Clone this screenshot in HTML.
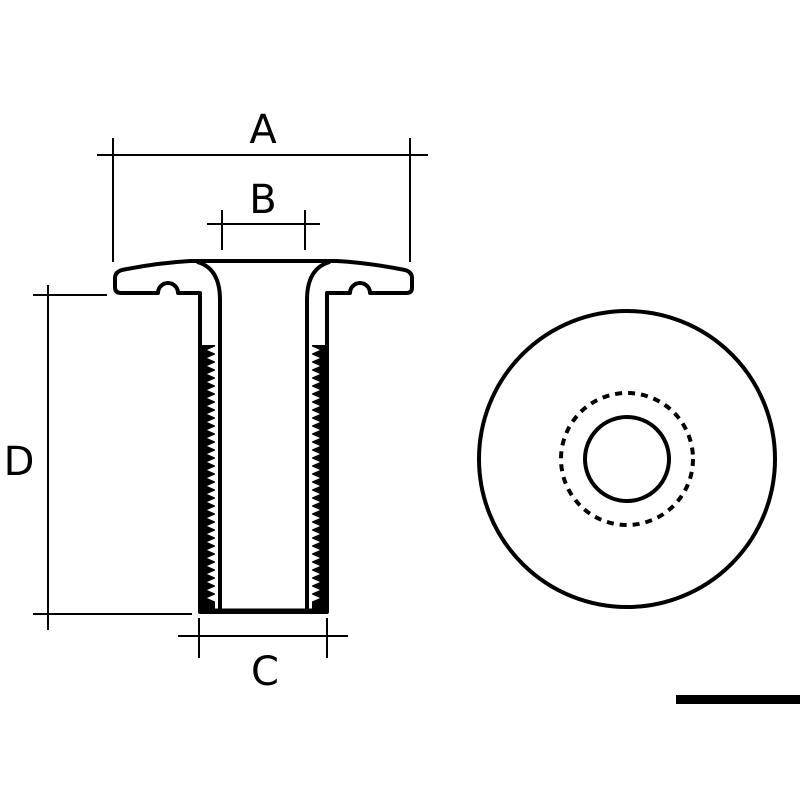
<!DOCTYPE html>
<html><head><style>body{margin:0;background:#fff}svg{display:block}</style></head>
<body>
<svg width="800" height="800" viewBox="0 0 800 800" xmlns="http://www.w3.org/2000/svg">
<g stroke="#000" fill="none" stroke-width="2">
<line x1="97" y1="155" x2="428" y2="155"/>
<line x1="113" y1="138" x2="113" y2="262"/>
<line x1="410" y1="138" x2="410" y2="262"/>
<line x1="207" y1="224" x2="320" y2="224"/>
<line x1="222" y1="210" x2="222" y2="250"/>
<line x1="305" y1="210" x2="305" y2="250"/>
<line x1="48" y1="285" x2="48" y2="630"/>
<line x1="33" y1="295" x2="107" y2="295"/>
<line x1="33" y1="614" x2="192" y2="614"/>
<line x1="178" y1="636" x2="348" y2="636"/>
<line x1="199" y1="618" x2="199" y2="658"/>
<line x1="327" y1="618" x2="327" y2="658"/>
</g>
<g stroke="#000" fill="none" stroke-width="4" stroke-linejoin="round">
<path d="M190 261 L337 261 Q370 263 405 270 Q412 272 412 278 L412 288 Q412 293 406 293 L370 293 A10 10 0 0 0 350 293 L327 293 L327 612 L200 612 L200 293 L178 293 A10 10 0 0 0 158 293 L121 293 Q115 293 115 287 L115 278 Q115 272 122 270 Q156 263 190 261 Z"/>
<path d="M197 262 Q220 268 220 300 L220 612"/>
<path d="M330 262 Q307 268 307 300 L307 612"/>
</g>
<rect x="200" y="345" width="15" height="268" fill="#000"/>
<rect x="312" y="345" width="15" height="268" fill="#000"/>
<g fill="#fff">
<path d="M216 346 L207 350 L216 354 L207 358 L216 362 L207 366 L216 370 L207 374 L216 378 L207 382 L216 386 L207 390 L216 394 L207 398 L216 402 L207 406 L216 410 L207 414 L216 418 L207 422 L216 426 L207 430 L216 434 L207 438 L216 442 L207 446 L216 450 L207 454 L216 458 L207 462 L216 466 L207 470 L216 474 L207 478 L216 482 L207 486 L216 490 L207 494 L216 498 L207 502 L216 506 L207 510 L216 514 L207 518 L216 522 L207 526 L216 530 L207 534 L216 538 L207 542 L216 546 L207 550 L216 554 L207 558 L216 562 L207 566 L216 570 L207 574 L216 578 L207 582 L216 586 L207 590 L216 594 L207 598 L216 602 Z"/>
<path d="M311 346 L320 350 L311 354 L320 358 L311 362 L320 366 L311 370 L320 374 L311 378 L320 382 L311 386 L320 390 L311 394 L320 398 L311 402 L320 406 L311 410 L320 414 L311 418 L320 422 L311 426 L320 430 L311 434 L320 438 L311 442 L320 446 L311 450 L320 454 L311 458 L320 462 L311 466 L320 470 L311 474 L320 478 L311 482 L320 486 L311 490 L320 494 L311 498 L320 502 L311 506 L320 510 L311 514 L320 518 L311 522 L320 526 L311 530 L320 534 L311 538 L320 542 L311 546 L320 550 L311 554 L320 558 L311 562 L320 566 L311 570 L320 574 L311 578 L320 582 L311 586 L320 590 L311 594 L320 598 L311 602 Z"/>
</g>
<line x1="220" y1="345" x2="220" y2="612" stroke="#000" stroke-width="4"/>
<line x1="307" y1="345" x2="307" y2="612" stroke="#000" stroke-width="4"/>
<line x1="200" y1="611" x2="327" y2="611" stroke="#000" stroke-width="5"/>
<circle cx="627" cy="459" r="148" fill="none" stroke="#000" stroke-width="4"/>
<circle cx="627" cy="459" r="66" fill="none" stroke="#000" stroke-width="4" stroke-dasharray="7 6"/>
<circle cx="627" cy="459" r="42" fill="none" stroke="#000" stroke-width="4"/>
<rect x="676" y="695" width="124" height="9" fill="#000"/>
<g font-family="DejaVu Sans, sans-serif" font-size="40" fill="#000" text-anchor="middle">
<text x="263" y="143">A</text>
<text x="263" y="213">B</text>
<text x="19" y="475">D</text>
<text x="265" y="685">C</text>
</g>
</svg>
</body></html>
